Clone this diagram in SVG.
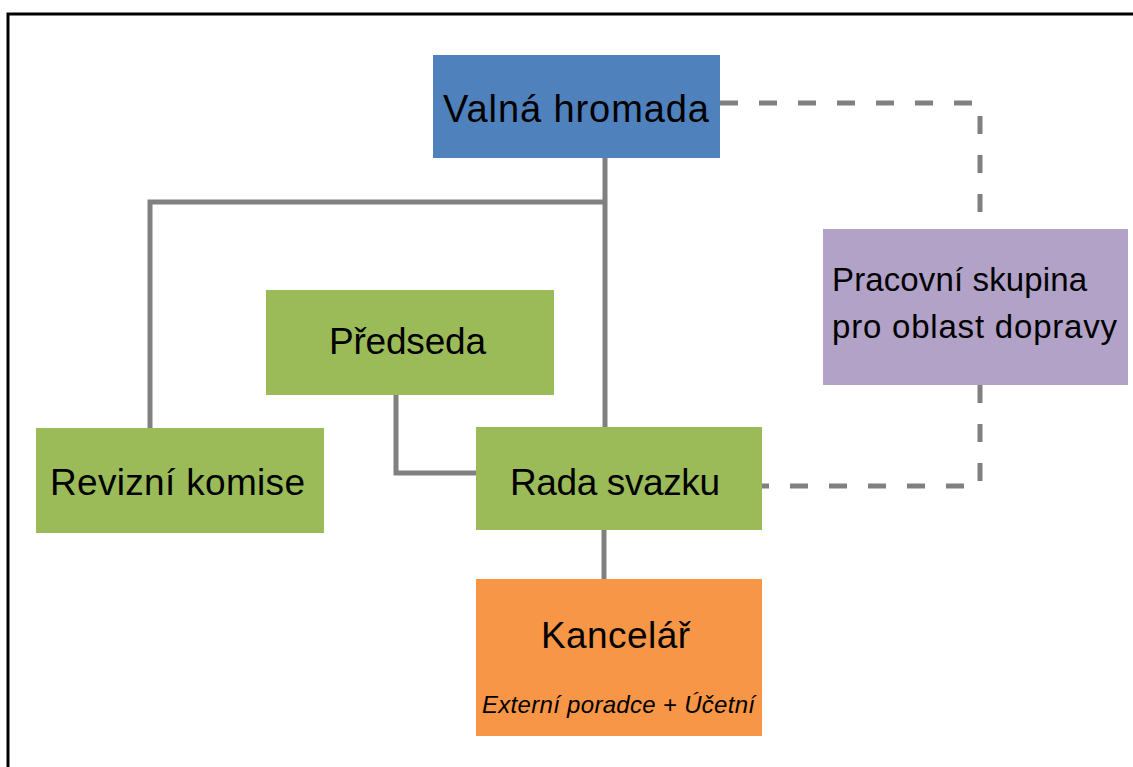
<svg xmlns="http://www.w3.org/2000/svg" width="1133" height="767" viewBox="0 0 1133 767">
<style>
.t{font-family:"Liberation Sans",Arial,sans-serif;fill:#000;}
.c{fill:none;stroke:#808080;stroke-width:5;}
.d{stroke-dasharray:18 21;}
</style>
<rect width="1133" height="767" fill="#fff"/>
<path d="M8 767 V14 H1133" fill="none" stroke="#000" stroke-width="3"/>
<g id="connectors">
<path class="c" d="M605 158 V428"/>
<path class="c" d="M605 202 H150 V428"/>
<path class="c" d="M396 395 V473 H478"/>
<path class="c" d="M604 530 V580"/>
<path class="c d" d="M720 103 H980 V229"/>
<path class="c d" d="M980 385 V486 H762"/>
</g>
<g id="valna-hromada">
<rect x="433" y="55" width="287" height="103" fill="#4F81BD"/>
<text class="t" x="443" y="122" font-size="38" textLength="266">Valná hromada</text>
</g>
<g id="predseda">
<rect x="266" y="290" width="288" height="105" fill="#9BBB59"/>
<text class="t" x="329" y="354" font-size="37" textLength="157">Předseda</text>
</g>
<g id="revizni-komise">
<rect x="36" y="428" width="288" height="105" fill="#9BBB59"/>
<text class="t" x="50" y="495" font-size="37" textLength="255">Revizní komise</text>
</g>
<g id="rada-svazku">
<rect x="476" y="427" width="286" height="103" fill="#9BBB59"/>
<text class="t" x="510" y="495" font-size="37" textLength="210">Rada svazku</text>
</g>
<g id="kancelar">
<rect x="476" y="579" width="286" height="157" fill="#F79646"/>
<text class="t" x="541" y="648" font-size="37" textLength="149">Kancelář</text>
<text class="t" x="482" y="713" font-size="24" font-style="italic" textLength="273">Externí poradce + Účetní</text>
</g>
<g id="pracovni-skupina">
<rect x="823" y="229" width="305" height="156" fill="#B2A2C7"/>
<text class="t" x="832" y="291" font-size="33" textLength="255">Pracovní skupina</text>
<text class="t" x="832" y="338" font-size="33" textLength="285">pro oblast dopravy</text>
</g>
</svg>
